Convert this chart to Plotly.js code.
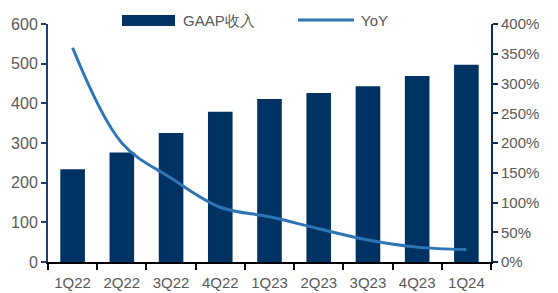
<!DOCTYPE html>
<html>
<head>
<meta charset="utf-8">
<script src="https://cdn.plot.ly/plotly-3.0.1.min.js"></script>
<style>html,body{margin:0;padding:0;background:#fff;}#chart{width:558px;height:293px;}</style>
</head>
<body>
<div id="chart"></div>
<script>
const categories = ["1Q22","2Q22","3Q22","4Q22","1Q23","2Q23","3Q23","4Q23","1Q24"];
const revenue = [234, 276, 325, 379, 411, 426, 443, 469, 497];
const yoy = [360, 200, 141, 92, 76, 56, 37, 25, 21];
const leftTicks = [0,100,200,300,400,500,600];
const rightTicks = [0,50,100,150,200,250,300,350,400];
const barName = "GAAP收入";
const lineName = "YoY";

const navy = "#003263";
const lineBlue = "#2E75B6";
const gray = "#595959";
const font = "Liberation Sans, Arial, sans-serif";

const data = [
  {type:"bar", x:categories, y:revenue, name:barName, marker:{color:navy}, width:0.5, showlegend:false, hoverinfo:"none"},
  {type:"scatter", mode:"lines", x:categories, y:yoy, name:lineName, yaxis:"y2", line:{color:lineBlue, width:3, shape:"spline", smoothing:1}, showlegend:false, hoverinfo:"none"}
];

const layout = {
  width:558, height:293,
  margin:{l:48, r:67, t:24, b:31},
  paper_bgcolor:"#fff", plot_bgcolor:"#fff",
  font:{family:font, size:15, color:gray},
  bargap:0.5,
  xaxis:{type:"category", showgrid:false, showline:true, linecolor:"#000", linewidth:2,
    ticks:"outside", tickcolor:"#000", ticklen:6, tickwidth:2, tickson:"boundaries",
    ticklabelstandoff:6,
    tickfont:{size:15, color:gray}, zeroline:false},
  yaxis:{range:[0,600], tickvals:leftTicks, showgrid:false, showline:true, linecolor:"#1F3F6E", linewidth:2,
    ticks:"outside", tickcolor:"#1F3F6E", ticklen:5, tickwidth:2, zeroline:false,
    tickfont:{size:16, color:gray}},
  yaxis2:{range:[0,400], tickvals:rightTicks, ticktext:rightTicks.map(v=>v+"%"), overlaying:"y", side:"right",
    showgrid:false, showline:true, linecolor:"#0D2A5C", linewidth:2,
    ticks:"outside", tickcolor:"#0D2A5C", ticklen:5, tickwidth:2, zeroline:false,
    tickfont:{size:15, color:gray}},
  shapes:[
    {type:"rect", xref:"paper", yref:"paper", x0:(122-48)/443, x1:(175-48)/443, y0:1+(24-26)/238, y1:1+(24-15)/238, fillcolor:navy, line:{width:0}},
    {type:"line", xref:"paper", yref:"paper", x0:(298-48)/443, x1:(354-48)/443, y0:1+(24-20)/238, y1:1+(24-20)/238, line:{color:lineBlue, width:3}}
  ],
  annotations:[
    {xref:"paper", yref:"paper", x:(181-48)/443, y:1+(24-20.5)/238, xanchor:"left", yanchor:"middle", text:barName, showarrow:false, font:{size:15, color:gray}},
    {xref:"paper", yref:"paper", x:(359-48)/443, y:1+(24-20.5)/238, xanchor:"left", yanchor:"middle", text:lineName, showarrow:false, font:{size:15, color:gray}}
  ]
};

Plotly.newPlot("chart", data, layout, {displayModeBar:false, staticPlot:true});
</script>
</body>
</html>
